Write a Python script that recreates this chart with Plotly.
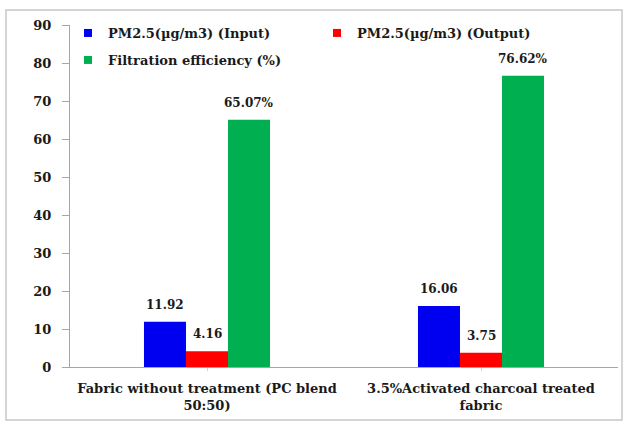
import plotly.graph_objects as go

categories = ["Fabric without treatment (PC blend<br>50:50)",
              "3.5%Activated charcoal treated<br>fabric"]
pm_input = [11.92, 16.06]
pm_output = [4.16, 3.75]
efficiency = [65.07, 76.62]

input_labels = ["11.92", "16.06"]
output_labels = ["4.16", "3.75"]
efficiency_labels = ["65.07%", "76.62%"]

series_names = ["PM2.5(µg/m3) (Input)", "PM2.5(µg/m3) (Output)", "Filtration efficiency (%)"]
colors = ["#0000F0", "#FF0000", "#00B050"]

W, H = 628, 427
ml, mr, mt, mb = 70, 10, 25, 60
pw, ph = W - ml - mr, H - mt - mb
bargap = 0.54

font_family = "DejaVu Serif"
text_color = "#1A1A1A"

def bold_font(size):
    return dict(family=font_family, size=size, color=text_color, weight="bold")

def px_x(p):
    return (p - ml) / pw

def px_y(p):
    return (H - mb - p) / ph

fig = go.Figure()
series = [(pm_input, input_labels), (pm_output, output_labels), (efficiency, efficiency_labels)]
for vals_labels, name, col in zip(series, series_names, colors):
    fig.add_trace(go.Bar(
        x=categories, y=vals_labels[0], name=name,
        marker=dict(color=col, line=dict(width=0)),
        showlegend=False,
    ))

# value labels above each bar, offset sideways to sit over its bar in the group
bar_px = pw / len(categories) * (1 - bargap) / len(series)
annotations = []
for i, (vals, labels) in enumerate(series):
    for cat, v, lab in zip(categories, vals, labels):
        annotations.append(dict(
            x=cat, y=v, xref="x", yref="y", text=lab, showarrow=False,
            xanchor="center", yanchor="bottom", xshift=(i - 1) * bar_px, yshift=8,
            font=bold_font(12),
        ))

# legend entries with small square swatches
legend_ids = ["legend", "legend", "legend2"]
for name, col, lg in zip(series_names, colors, legend_ids):
    fig.add_trace(go.Scatter(
        x=[None], y=[None], mode="markers", name=name,
        marker=dict(symbol="square", size=8, color=col),
        legend=lg, showlegend=True,
    ))

fig.update_layout(
    width=W, height=H,
    margin=dict(l=ml, r=mr, t=mt, b=mb, autoexpand=False),
    paper_bgcolor="white", plot_bgcolor="white",
    barmode="group", bargap=bargap, bargroupgap=0,
    font=bold_font(13),
    legend=dict(
        orientation="h", x=px_x(68), y=px_y(18), xanchor="left", yanchor="top",
        entrywidth=204, entrywidthmode="pixels", itemwidth=30,
        font=bold_font(13),
        bgcolor="rgba(0,0,0,0)", tracegroupgap=0,
    ),
    legend2=dict(
        orientation="h", x=px_x(68), y=px_y(45), xanchor="left", yanchor="top",
        itemwidth=30,
        font=bold_font(13),
        bgcolor="rgba(0,0,0,0)",
    ),
    xaxis=dict(
        type="category", showline=True, linecolor="#A6A6A6", linewidth=1,
        ticks="outside", ticklen=3, tickcolor="#D0D0D0",
        tickfont=bold_font(13), ticklabelstandoff=6, automargin=False,
        showgrid=False, zeroline=False,
    ),
    yaxis=dict(
        range=[0, 90], dtick=10, showline=True, linecolor="#A6A6A6", linewidth=1,
        ticks="outside", ticklen=7, tickcolor="#A6A6A6",
        tickfont=bold_font(13), ticklabelstandoff=8, automargin=False,
        showgrid=False, zeroline=False,
    ),
    annotations=annotations,
    shapes=[dict(
        type="rect", xref="paper", yref="paper",
        x0=px_x(6), x1=px_x(622), y0=px_y(420), y1=px_y(10),
        line=dict(color="#C8C8C8", width=1.5), fillcolor="rgba(0,0,0,0)", layer="below",
    )],
)

fig.write_html("out.html")
